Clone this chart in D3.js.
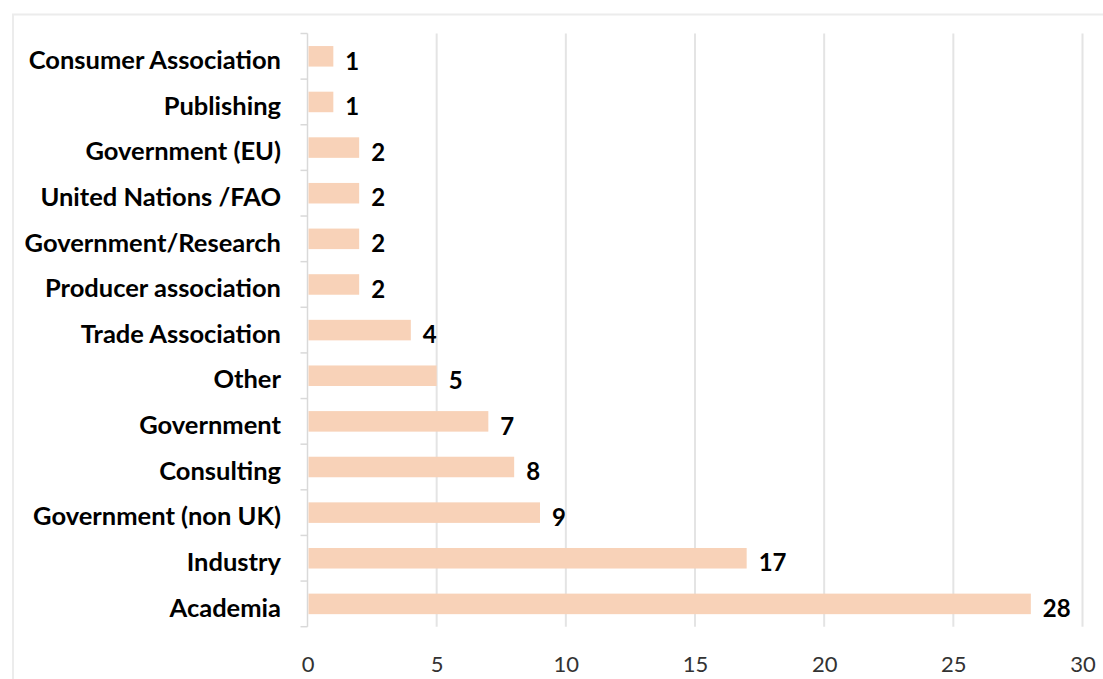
<!DOCTYPE html>
<html>
<head>
<meta charset="utf-8">
<script src="https://cdn.jsdelivr.net/npm/d3@7/dist/d3.min.js"></script>
<style>
  html, body { margin: 0; padding: 0; background: #fff; }
  svg { display: block; }
</style>
</head>
<body>
<svg id="chart" width="1103" height="679"></svg>
<script>
// Respondents by sector (top of the list drawn first)
const categories = [
  "Consumer Association",
  "Publishing",
  "Government (EU)",
  "United Nations /FAO",
  "Government/Research",
  "Producer association",
  "Trade Association",
  "Other",
  "Government",
  "Consulting",
  "Government (non UK)",
  "Industry",
  "Academia"
];
const counts = [1, 1, 2, 2, 2, 2, 4, 5, 7, 8, 9, 17, 28];
const xTicks = [0, 5, 10, 15, 20, 25, 30];

const svg = d3.select("#chart");
const W = 1103, H = 679;
const margin = { top: 33.5, right: 20.5, bottom: 52.3, left: 307.5 };
const font = "Lato, 'Open Sans', sans-serif";

// outer frame
svg.append("rect")
  .attr("x", 13).attr("y", 14.5)
  .attr("width", W + 20).attr("height", H + 20)
  .attr("fill", "none").attr("stroke", "#ececec").attr("stroke-width", 2);

const x = d3.scaleLinear().domain([0, 30]).range([margin.left, W - margin.right]);
const y = d3.scaleBand().domain(categories)
  .range([margin.top, H - margin.bottom])
  .paddingInner(0.55).paddingOuter(0.275);

// vertical gridlines
svg.append("g")
  .selectAll("line")
  .data(xTicks.filter(d => d > 0))
  .join("line")
  .attr("x1", d => x(d)).attr("x2", d => x(d))
  .attr("y1", margin.top).attr("y2", H - margin.bottom)
  .attr("stroke", "#e4e4e4").attr("stroke-width", 2);

// category axis with outward ticks at band boundaries
const yAxisG = svg.append("g");
yAxisG.append("line")
  .attr("x1", margin.left).attr("x2", margin.left)
  .attr("y1", margin.top).attr("y2", H - margin.bottom)
  .attr("stroke", "#d9d9d9").attr("stroke-width", 1.5);
const bounds = d3.range(categories.length + 1)
  .map(i => margin.top + i * (H - margin.bottom - margin.top) / categories.length);
yAxisG.selectAll("line.tk")
  .data(bounds)
  .join("line")
  .attr("class", "tk")
  .attr("x1", margin.left - 7).attr("x2", margin.left)
  .attr("y1", d => d).attr("y2", d => d)
  .attr("stroke", "#d9d9d9").attr("stroke-width", 1.5);

yAxisG.selectAll("text")
  .data(categories)
  .join("text")
  .attr("x", 281)
  .attr("y", d => y(d) + y.bandwidth() / 2)
  .attr("dy", "0.5em")
  .attr("text-anchor", "end")
  .attr("font-family", font)
  .attr("font-weight", 700)
  .attr("font-size", 25.5)
  .attr("fill", "#000")
  .text(d => d);

// bars
svg.append("g")
  .selectAll("rect")
  .data(categories)
  .join("rect")
  .attr("x", x(0) + 1)
  .attr("y", d => y(d))
  .attr("width", (d, i) => x(counts[i]) - x(0) - 1)
  .attr("height", y.bandwidth())
  .attr("fill", "#f8d2b8");

// value labels
svg.append("g")
  .selectAll("text")
  .data(categories)
  .join("text")
  .attr("x", (d, i) => x(counts[i]) + 12)
  .attr("y", d => y(d) + y.bandwidth() / 2)
  .attr("dy", "0.55em")
  .attr("font-family", font)
  .attr("font-weight", 700)
  .attr("font-size", 24)
  .attr("fill", "#000")
  .text((d, i) => counts[i]);

// value axis labels
const xAxis = d3.axisBottom(x).tickValues(xTicks).tickSize(0).tickPadding(0);
const xg = svg.append("g")
  .attr("transform", `translate(0,${H - margin.bottom})`)
  .call(xAxis);
xg.select(".domain").remove();
xg.selectAll("text")
  .attr("y", 45)
  .attr("dy", 0)
  .attr("font-family", font)
  .attr("font-size", 22)
  .attr("fill", "#333");
</script>
</body>
</html>
